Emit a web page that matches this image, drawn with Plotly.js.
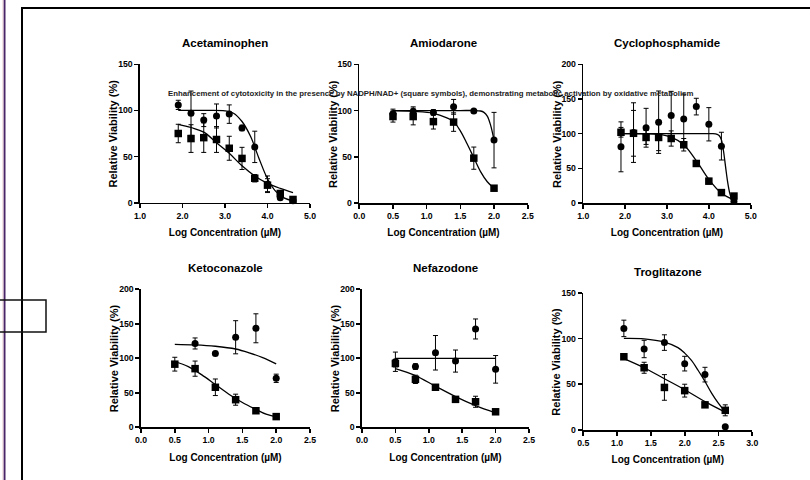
<!DOCTYPE html>
<html><head><meta charset="utf-8">
<script src="https://cdn.plot.ly/plotly-3.0.1.min.js"></script>
<style>html,body{margin:0;padding:0;background:#fff}#chart{width:810px;height:480px}</style>
</head><body><div id="chart"></div>
<script>
// ---------- DATA ----------
const panelTitles = ["Acetaminophen","Amiodarone","Cyclophosphamide","Ketoconazole","Nefazodone","Troglitazone"];
const xTitle = "Log Concentration (\u00b5M)";
const yTitle = "Relative Viability (%)";
const noteText = "Enhancement of cytotoxicity in the presence by NADPH/NAD+ (square symbols), demonstrating metabolic activation by oxidative metabolism";

// Acetaminophen
const acetX      = [1.9,2.2,2.5,2.8,3.1,3.4,3.7,4.0,4.3,4.6];
const acetCirc   = [106,97,89.5,94,96,81,60.5,20,5.5,2];
const acetCircE  = [5,24,7,13,10,3,17,9,2,2];
const acetSq     = [75,69.5,70.5,68.5,59,48,26.5,19,10,3.5];
const acetSqE    = [10,15,16,14,13,12,4,7,3,2];
const acetCircFitX = [1.9,2.5,3.0,3.2,3.4,3.6,3.8,4.0,4.2,4.4,4.6];
const acetCircFitY = [100,100,99.5,97,88,72,48,26,12,5,2];
const acetSqFitX = [1.9,2.2,2.5,2.8,3.1,3.4,3.7,4.0,4.3,4.6];
const acetSqFitY = [85,81.5,76.5,65,53.5,40,29,21,15.5,11];

// Amiodarone
const amioX      = [0.5,0.8,1.1,1.4,1.7,2.0];
const amioCirc   = [96.5,99,98,104,99.5,68];
const amioCircE  = [5,5,3,8,1,30];
const amioSq     = [93.5,93.5,88,87.5,48.5,16];
const amioSqE    = [6,9,8,10,12,2];
const amioCircFitX = [0.5,1.0,1.5,1.7,1.8,1.85,1.9,1.95,2.0];
const amioCircFitY = [100,100,100,100,99.5,98,94,84,68];
const amioSqFitX = [0.5,0.8,1.1,1.3,1.4,1.5,1.6,1.7,1.8,1.9,2.0];
const amioSqFitY = [99.8,99,97,92,88,78,64,49,34,23,16];

// Cyclophosphamide
const cycX      = [1.9,2.2,2.5,2.8,3.1,3.4,3.7,4.0,4.3,4.6];
const cycCirc   = [81,101.5,108.5,116.5,126,121,139,113.5,82,2];
const cycCircE  = [36,43,28,45,35,36,12,24,20,1];
const cycSq     = [102,100.5,94.5,94.5,93,84,57,31.5,15,10];
const cycSqE    = [7,33,10,19,11,9,4,4,3,3];
const cycCircFitX = [1.9,3.0,4.0,4.1,4.2,4.25,4.3,4.35,4.4,4.45,4.5,4.55,4.6];
const cycCircFitY = [100,100,100,100,99,97,91,75,52,30,14,5,2];
const cycSqFitX = [1.9,2.5,2.8,3.1,3.4,3.7,4.0,4.3,4.6];
const cycSqFitY = [100,99.8,99,95,84,61,34,14,4.5];

// Ketoconazole
const ketoX      = [0.5,0.8,1.1,1.4,1.7,2.0];
const ketoCircX  = [0.8,1.1,1.4,1.7,2.0];
const ketoCirc   = [121.5,107,130.5,143.5,71];
const ketoCircE  = [8,3,24,21,6];
const ketoSq     = [91.5,85,58,40,24,15.5];
const ketoSqE    = [10,11,12,8,4,2];
const ketoCircFitX = [0.5,0.8,1.1,1.4,1.6,1.8,2.0];
const ketoCircFitY = [120.3,119.5,117.5,113.5,108,101,92];
const ketoSqFitX = [0.5,0.7,0.9,1.1,1.3,1.5,1.7,1.85,2.0];
const ketoSqFitY = [95,88,76,62,48,36,26,19,15];

// Nefazodone
const nefaX      = [0.5,0.8,1.1,1.4,1.7,2.0];
const nefaCirc   = [95,88,108,96,142.5,84];
const nefaCircE  = [14,4,25,16,14.5,20];
const nefaSq     = [92.5,69.5,58,40.5,37,22.5];
const nefaSqE    = [5,6,3,4,8,2];
const nefaCircFitX = [0.5,2.0];
const nefaCircFitY = [100,100];
const nefaSqFitX = [0.5,0.8,1.1,1.4,1.7,2.0];
const nefaSqFitY = [85,75,59.5,44.5,31.5,21];

// Troglitazone
const trogX      = [1.1,1.4,1.7,2.0,2.3,2.6];
const trogCirc   = [111,88.5,95.5,72.5,60.5,3.5];
const trogCircE  = [9,9.5,8.5,8,8,1];
const trogSq     = [80,68,46.5,43,27.5,21.5];
const trogSqE    = [2,6,14,7,2,6];
const trogCircFitX = [1.1,1.4,1.7,1.9,2.0,2.1,2.2,2.3,2.4,2.5,2.6];
const trogCircFitY = [100,99.5,96,90,84,76,65,53,40,29,19.8];
const trogSqFitX = [1.1,1.4,1.7,2.0,2.3,2.6];
const trogSqFitY = [78,68,56,44,31,19.5];

// ---------- LAYOUT HELPERS ----------
const W = 810, H = 480;
const px = v => v / W;
const py = v => 1 - v / H;

const FONT = "Liberation Sans, Arial, sans-serif";

const panels = [
  {x: acetX, cx: acetX, c: acetCirc, ce: acetCircE, s: acetSq, se: acetSqE, cfx: acetCircFitX, cfy: acetCircFitY, sfx: acetSqFitX, sfy: acetSqFitY,
   xr: [1,5], dx: 1, yr: [0,150], box: [140,310,64.3,202.7]},
  {x: amioX, cx: amioX, c: amioCirc, ce: amioCircE, s: amioSq, se: amioSqE, cfx: amioCircFitX, cfy: amioCircFitY, sfx: amioSqFitX, sfy: amioSqFitY,
   xr: [0,2.5], dx: 0.5, yr: [0,150], box: [359.3,527.7,64.3,203]},
  {x: cycX, cx: cycX, c: cycCirc, ce: cycCircE, s: cycSq, se: cycSqE, cfx: cycCircFitX, cfy: cycCircFitY, sfx: cycSqFitX, sfy: cycSqFitY,
   xr: [1,5], dx: 1, yr: [0,200], box: [583.3,750.7,64.3,203]},
  {x: ketoX, cx: ketoCircX, c: ketoCirc, ce: ketoCircE, s: ketoSq, se: ketoSqE, cfx: ketoCircFitX, cfy: ketoCircFitY, sfx: ketoSqFitX, sfy: ketoSqFitY,
   xr: [0,2.5], dx: 0.5, yr: [0,200], box: [141,310,289.3,427.3]},
  {x: nefaX, cx: nefaX, c: nefaCirc, ce: nefaCircE, s: nefaSq, se: nefaSqE, cfx: nefaCircFitX, cfy: nefaCircFitY, sfx: nefaSqFitX, sfy: nefaSqFitY,
   xr: [0,2.5], dx: 0.5, yr: [0,200], box: [362,529,289.3,427.3]},
  {x: trogX, cx: trogX, c: trogCirc, ce: trogCircE, s: trogSq, se: trogSqE, cfx: trogCircFitX, cfy: trogCircFitY, sfx: trogSqFitX, sfy: trogSqFitY,
   xr: [0.5,3.0], dx: 0.5, yr: [0,150], box: [583.3,752.3,292.7,430]}
];

const traces = [];
const layout = {
  width: W, height: H,
  margin: {l:0, r:0, t:0, b:0},
  paper_bgcolor: "#fff", plot_bgcolor: "rgba(0,0,0,0)",
  showlegend: false,
  annotations: [],
  shapes: [
    {type:"line", xref:"paper", yref:"paper", x0:px(22), x1:px(22), y0:py(8), y1:py(482), line:{color:"#000", width:2}},
    {type:"line", xref:"paper", yref:"paper", x0:px(21), x1:px(812), y0:py(8), y1:py(8), line:{color:"#000", width:2}},
    {type:"line", xref:"paper", yref:"paper", x0:px(4.5), x1:px(4.5), y0:py(-2), y1:py(482), line:{color:"#4a2668", width:2}},
    {type:"line", xref:"paper", yref:"paper", x0:px(2.8), x1:px(2.8), y0:py(-2), y1:py(482), line:{color:"#f1d9dc", width:1}},
    {type:"rect", xref:"paper", yref:"paper", x0:px(-2), x1:px(46), y0:py(300), y1:py(332), line:{color:"#111", width:1.5}, fillcolor:"rgba(0,0,0,0)"}
  ]
};

panels.forEach((p, i) => {
  const n = i + 1;
  const xa = "x" + (n === 1 ? "" : n), ya = "y" + (n === 1 ? "" : n);
  const errStyle = {type:"data", visible:true, color:"#000", thickness:1, width:2.5};
  traces.push({x: p.cfx, y: p.cfy, xaxis: xa, yaxis: ya, mode:"lines", line:{color:"#000", width:1.3, shape:"spline"}, hoverinfo:"skip"});
  traces.push({x: p.sfx, y: p.sfy, xaxis: xa, yaxis: ya, mode:"lines", line:{color:"#000", width:1.3, shape:"spline"}, hoverinfo:"skip"});
  traces.push({x: p.cx, y: p.c, xaxis: xa, yaxis: ya, mode:"markers", marker:{symbol:"circle", size:7, color:"#000"},
    error_y: Object.assign({array: p.ce}, errStyle), cliponaxis:false});
  traces.push({x: p.x, y: p.s, xaxis: xa, yaxis: ya, mode:"markers", marker:{symbol:"square", size:7.5, color:"#000"},
    error_y: Object.assign({array: p.se}, errStyle), cliponaxis:false});

  const [l, r, t, b] = p.box;
  const axCommon = {showline:true, linecolor:"#000", linewidth:1.6, ticks:"outside", ticklen:4, tickwidth:1.6, tickcolor:"#000",
    showgrid:false, zeroline:false, fixedrange:true};
  layout["xaxis" + (n === 1 ? "" : n)] = Object.assign({}, axCommon, {
    domain:[px(l), px(r)], range:p.xr, dtick:p.dx, tick0:0, tickformat:".1f", anchor: ya,
    tickfont:{family:FONT, size:8.7, color:"#000", weight:"bold"},
    title:{text:xTitle, font:{family:FONT, size:10, color:"#000", weight:"bold"}, standoff:9}
  });
  layout["yaxis" + (n === 1 ? "" : n)] = Object.assign({}, axCommon, {
    domain:[py(b), py(t)], range:p.yr, dtick:50, anchor: xa,
    tickfont:{family:FONT, size:8.7, color:"#000", weight:"bold"}
  });
  layout.annotations.push({xref:"paper", yref:"paper", x:px((l + r) / 2), y:py(t - 21), text:panelTitles[i],
    showarrow:false, xanchor:"center", yanchor:"middle", font:{family:FONT, size:11.5, color:"#000", weight:"bold"}});
  layout.annotations.push({xref:"paper", yref:"paper", x:px(l - 27), y:py((t + b) / 2), text:yTitle, textangle:-90,
    showarrow:false, xanchor:"center", yanchor:"middle", font:{family:FONT, size:11, color:"#000", weight:"bold"}});
});

layout.annotations.push({xref:"paper", yref:"paper", x:px(430), y:py(93.5), text:noteText, showarrow:false,
  xanchor:"center", yanchor:"middle", font:{family:FONT, size:7.8, color:"#222", weight:"bold"}});

Plotly.newPlot("chart", traces, layout, {displayModeBar:false, staticPlot:true});
</script>
</body></html>
